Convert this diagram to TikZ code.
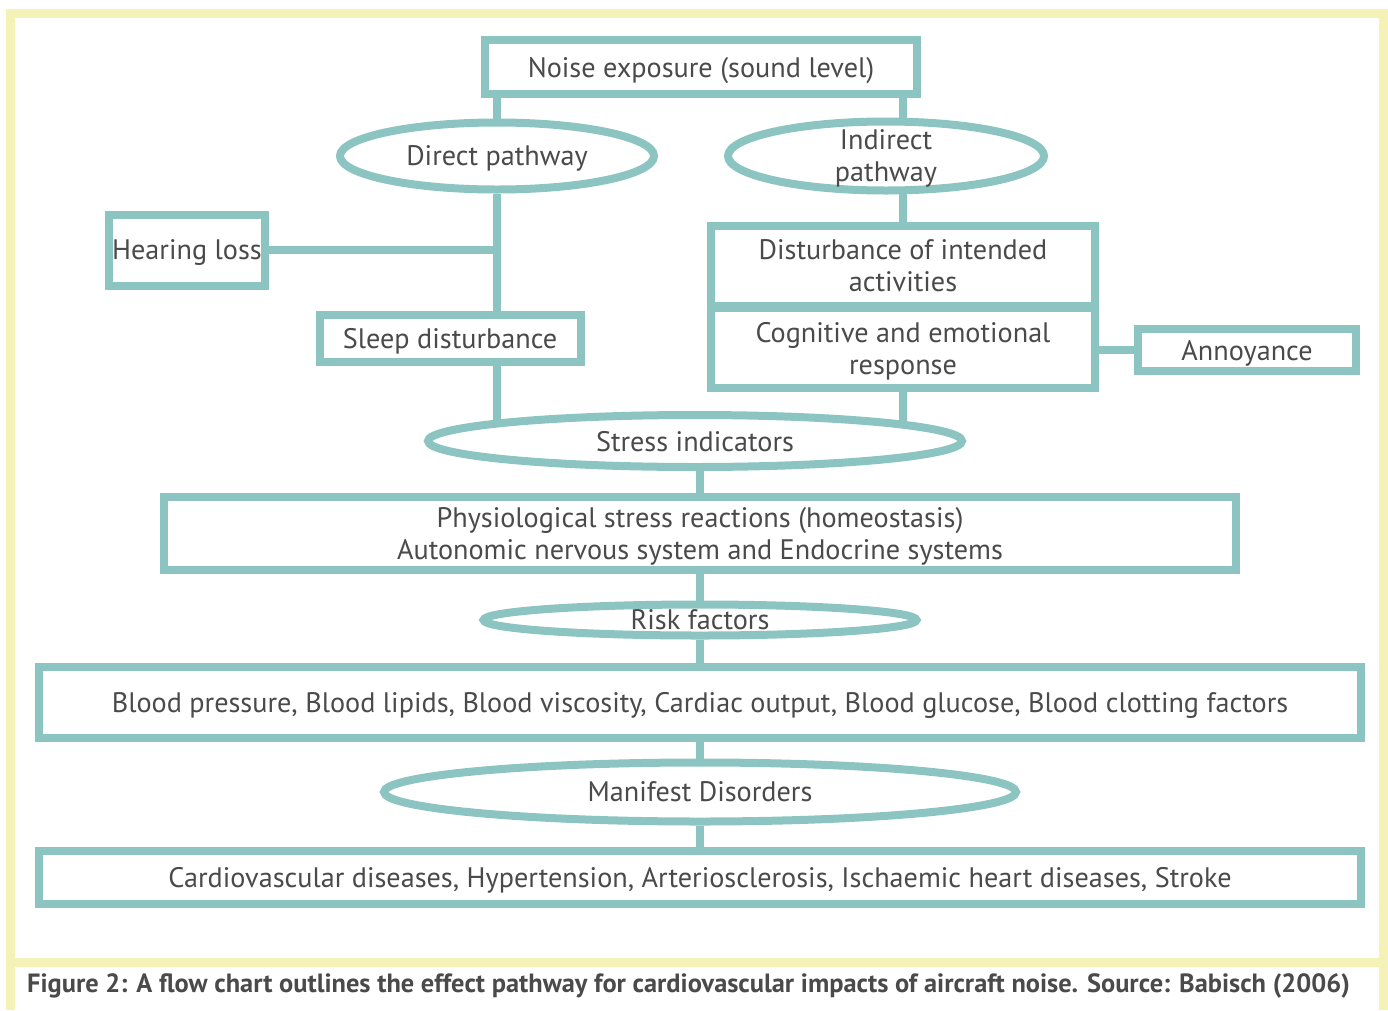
\documentclass[tikz,border=0pt]{standalone}
\usepackage{fontspec}
\setmainfont{PT Sans}
\usetikzlibrary{shapes.geometric,backgrounds}

\definecolor{tealline}{HTML}{8BC4C1}
\definecolor{frameyellow}{HTML}{F5F2B8}
\definecolor{inkgray}{HTML}{4A4A4A}

\begin{document}
\begin{tikzpicture}[x=1pt, y=-1pt,
  label text/.style={text=inkgray, align=center, inner sep=0pt, text depth=0pt,
    font=\fontsize{28.2}{32}\selectfont},
  box/.style={label text, draw=tealline, line width=8pt, fill=white, rectangle},
  oval/.style={box, ellipse},
  link/.style={draw=tealline, line width=8pt}]

% --- layout helpers ---
\def\Lx{497}    % direct pathway x
\def\Rx{903}    % indirect pathway x
\def\Cx{700}    % center column x

\useasboundingbox (0,0) rectangle (1388,1010);

% --- yellow frame ---
\draw[frameyellow, line width=9pt] (10,13) rectangle (1383,962);
\draw[frameyellow, line width=9pt] (10,962) -- (10,1010) (1383,962) -- (1383,1010);

% --- top ---
\node[box, minimum width=432, minimum height=54] (noise) at (701,67) {Noise exposure (sound level)};
\node[oval, minimum width=314, minimum height=67] (direct) at (\Lx,156) {Direct pathway};
\node[oval, minimum width=316, minimum height=69] (indirect) at (886,156) {};
\node[label text] (indirecttext) at (indirect) {Indirect\\pathway};

% --- direct pathway side ---
\node[box, minimum width=156, minimum height=71] (hearing) at (187,250) {Hearing loss};
\node[box, minimum width=261, minimum height=47] (sleep) at (450,338) {Sleep disturbance};

% --- indirect pathway side ---
\node[box, minimum width=384, minimum height=80] (disturb) at (\Rx,266) {Disturbance of intended\\activities};
\node[box, minimum width=384, minimum height=80] (cognitive) at (\Rx,348) {Cognitive and emotional\\response};
\node[box, minimum width=218, minimum height=42] (annoy) at (1247,350) {Annoyance};

% --- center column ---
\node[oval, minimum width=534, minimum height=52] (stress) at (695,441) {Stress indicators};
\node[box, minimum width=1072, minimum height=73] (physio) at (\Cx,533)
  {Physiological stress reactions (homeostasis)\\Autonomic nervous system and Endocrine systems};
\node[oval, minimum width=433, minimum height=31] (risk) at (\Cx,620) {Risk factors};
\node[box, minimum width=1322, minimum height=71] (blood) at (\Cx,702)
  {Blood pressure, Blood lipids, Blood viscosity, Cardiac output, Blood glucose, Blood clotting factors};
\node[oval, minimum width=632, minimum height=59] (manifest) at (\Cx,792) {Manifest Disorders};
\node[box, minimum width=1322, minimum height=53] (cardio) at (\Cx,877)
  {Cardiovascular diseases, Hypertension, Arteriosclerosis, Ischaemic heart diseases, Stroke};

% --- caption ---
\node[anchor=west, inner sep=0pt, text=inkgray, font=\bfseries\fontsize{26.4}{30}\selectfont]
  (caption) at (27,986) {Figure 2: A flow chart outlines the effect pathway for cardiovascular impacts of aircraft noise. Source: Babisch (2006)};

% --- connectors (behind the nodes) ---
\begin{scope}[on background layer]
  \draw[link] (noise.south -| direct.north) -- (direct.north);
  \draw[link] (noise.south -| disturb.north) -- (indirect.center -| disturb.north);
  \draw[link] (indirect.center -| disturb.north) -- (disturb.north);
  \draw[link] (direct.south) -- (sleep.north -| direct.south);
  \draw[link] (hearing.east) -- (hearing.east -| direct.south);
  \draw[link] (sleep.south -| direct.south) -- (stress.center -| direct.south);
  \draw[link] (cognitive.south) -- (stress.center -| cognitive.south);
  \draw[link] (cognitive.east |- annoy.west) -- (annoy.west);
  \draw[link] (stress.center -| physio.north) -- (physio.north);
  \foreach \a/\b in {physio/risk, risk/blood, blood/manifest, manifest/cardio}
    \draw[link] (\a.south) -- (\b.north);
\end{scope}

\end{tikzpicture}
\end{document}
